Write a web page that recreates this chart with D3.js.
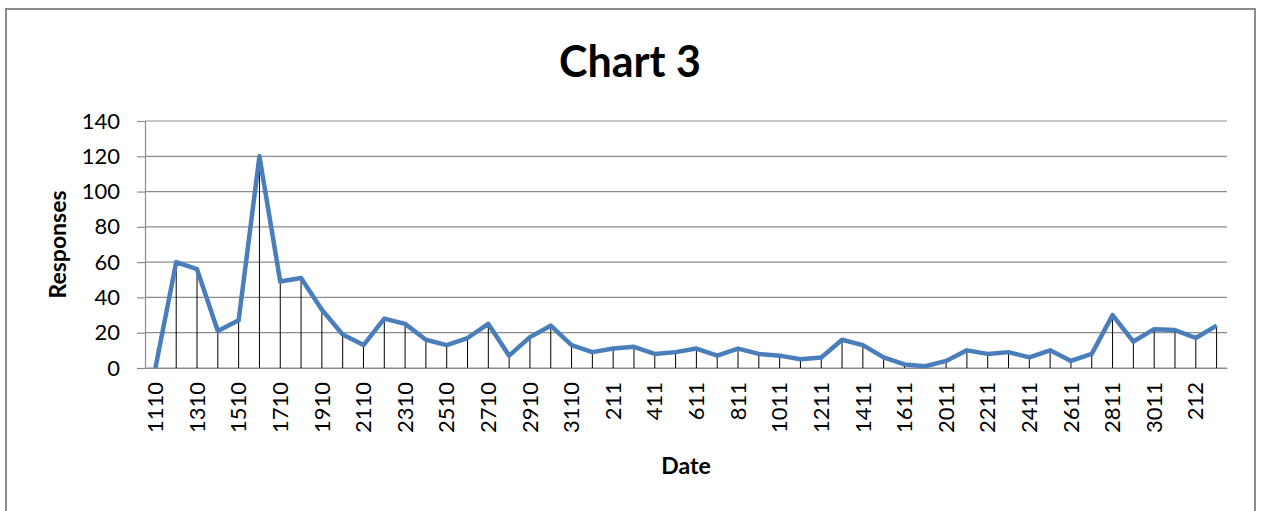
<!DOCTYPE html>
<html>
<head>
<meta charset="utf-8">
<script src="https://cdn.jsdelivr.net/npm/d3@7"></script>
<style>
  body { margin: 0; background: #fff; }
  text { font-family: Lato, "Open Sans", sans-serif; }
</style>
</head>
<body>
<script>
// dates (ddmm without leading zero) and responses
var dates = ["1110","1210","1310","1410","1510","1610","1710","1810","1910","2010",
             "2110","2210","2310","2410","2510","2610","2710","2810","2910","3010",
             "3110","111","211","311","411","511","611","711","811","911",
             "1011","1111","1211","1311","1411","1511","1611","1811","2011","2111",
             "2211","2311","2411","2511","2611","2711","2811","2911","3011","112",
             "212","312"];
var responses = [0, 60, 56, 21, 27, 120, 49, 51, 33, 19,
                 13, 28, 25, 16, 13, 17, 25, 7, 17.5, 24,
                 13, 9, 11, 12, 8, 9, 11, 7, 11, 8,
                 7, 5, 6, 16, 13, 6, 2, 1, 4, 10,
                 8, 9, 6, 10, 4, 8, 30, 15, 22, 21.5,
                 17, 24];
var yTicks = [0, 20, 40, 60, 80, 100, 120, 140];

var W = 1261, H = 511;
var margin = {top: 121, right: 34, bottom: 143, left: 145},
    width = W - margin.left - margin.right,
    height = H - margin.top - margin.bottom;

var svg = d3.select("body").append("svg")
    .attr("width", W)
    .attr("height", H);

// outer chart border
svg.append("rect")
    .attr("x", 6).attr("y", 9)
    .attr("width", 1249).attr("height", 520)
    .attr("fill", "none")
    .attr("stroke", "#8c8c8c")
    .attr("stroke-width", 2);

var g = svg.append("g")
    .attr("transform", "translate(" + margin.left + "," + margin.top + ")");

var x = d3.scaleBand().domain(dates).range([0, width]);
var y = d3.scaleLinear().domain([0, 140]).range([height, 0]);

// gridlines
g.selectAll(".grid").data(yTicks).enter().append("line")
    .attr("x1", 0).attr("x2", width)
    .attr("y1", function(d) { return y(d); })
    .attr("y2", function(d) { return y(d); })
    .attr("stroke", "#8c8c8c")
    .attr("stroke-width", 1.2);

// y axis
var yAxis = g.append("g")
    .call(d3.axisLeft(y).tickValues(yTicks).tickSize(8).tickPadding(17));
yAxis.select(".domain").attr("stroke", "#8c8c8c").attr("stroke-width", 1.2);
yAxis.selectAll(".tick line").attr("stroke", "#8c8c8c").attr("stroke-width", 1.2);
yAxis.selectAll("text")
    .style("font-size", "22px")
    .style("font-family", "Lato, sans-serif")
    .attr("fill", "#000");

// x axis
var xAxis = g.append("g")
    .attr("transform", "translate(0," + height + ")")
    .call(d3.axisBottom(x)
      .tickValues(dates.filter(function(d, i) { return i % 2 === 0; }))
      .tickSize(0));
xAxis.select(".domain").attr("stroke", "#8c8c8c").attr("stroke-width", 1.2);
xAxis.selectAll("text")
    .attr("transform", "rotate(-90)")
    .attr("x", -14)
    .attr("y", 0)
    .attr("dy", "0.35em")
    .style("text-anchor", "end")
    .style("font-size", "22px")
    .style("font-family", "Lato, sans-serif")
    .attr("fill", "#000");

// drop lines
g.selectAll(".drop").data(responses).enter().append("line")
    .attr("x1", function(d, i) { return x(dates[i]) + x.bandwidth() / 2; })
    .attr("x2", function(d, i) { return x(dates[i]) + x.bandwidth() / 2; })
    .attr("y1", function(d) { return y(d); })
    .attr("y2", y(0))
    .attr("stroke", "#000")
    .attr("stroke-width", 1);

// the line
var valueline = d3.line()
    .x(function(d, i) { return x(dates[i]) + x.bandwidth() / 2; })
    .y(function(d) { return y(d); });

g.append("path")
    .datum(responses)
    .attr("fill", "none")
    .attr("stroke", "#4a7ebb")
    .attr("stroke-width", 4.5)
    .attr("stroke-linejoin", "round")
    .attr("d", valueline);

// title
svg.append("text")
    .attr("x", 630)
    .attr("y", 77)
    .attr("text-anchor", "middle")
    .style("font-size", "43px")
    .style("font-weight", "bold")
    .text("Chart 3");

// axis titles
svg.append("text")
    .attr("transform", "translate(66," + (margin.top + height / 2) + ") rotate(-90)")
    .attr("text-anchor", "middle")
    .style("font-size", "23px")
    .style("font-weight", "bold")
    .text("Responses");

svg.append("text")
    .attr("x", 686)
    .attr("y", 474)
    .attr("text-anchor", "middle")
    .style("font-size", "23px")
    .style("font-weight", "bold")
    .text("Date");
</script>
</body>
</html>
